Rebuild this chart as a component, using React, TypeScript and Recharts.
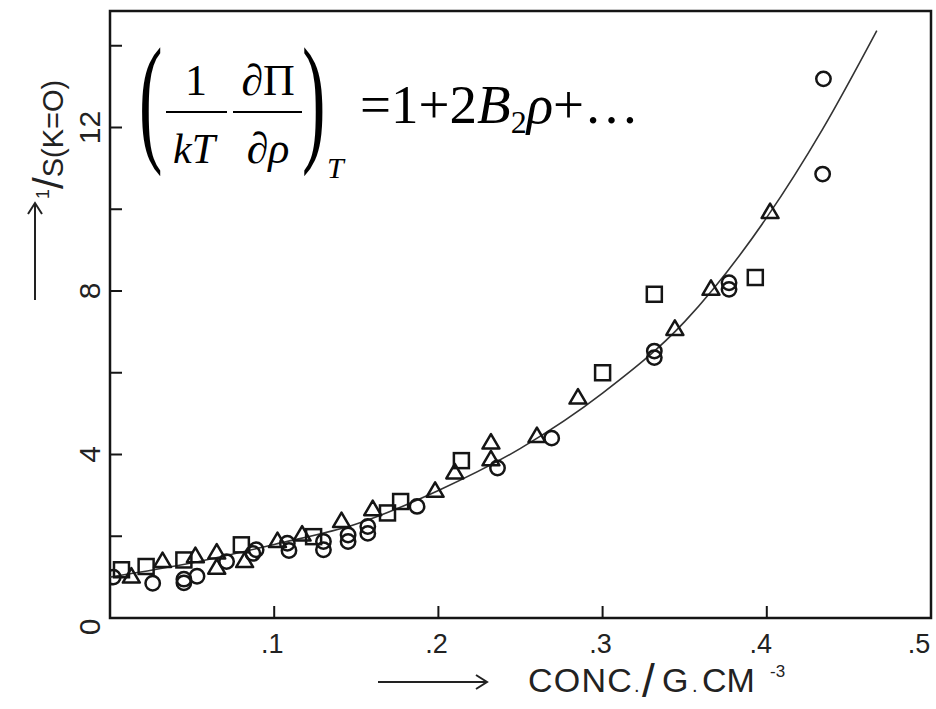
import React from 'react';
import { ComposedChart, Scatter, Line, XAxis, YAxis, ReferenceArea } from 'recharts';

// ---- data ----
const circleConc = [0.002, 0.026, 0.045, 0.045, 0.053, 0.071, 0.087, 0.089, 0.108, 0.109, 0.13, 0.13, 0.145, 0.145, 0.157, 0.157, 0.187, 0.236, 0.269, 0.3315, 0.3315, 0.377, 0.377, 0.434, 0.4345];
const circleInvS = [1.0, 0.85, 0.95, 0.86, 1.02, 1.38, 1.58, 1.67, 1.83, 1.65, 1.87, 1.67, 2.03, 1.87, 2.24, 2.07, 2.73, 3.67, 4.4, 6.53, 6.37, 8.2, 8.04, 10.86, 13.19];

const squareConc = [0.007, 0.022, 0.045, 0.08, 0.124, 0.169, 0.177, 0.214, 0.3, 0.3315, 0.393];
const squareInvS = [1.18, 1.26, 1.42, 1.79, 1.99, 2.57, 2.85, 3.85, 6.0, 7.92, 8.33];

const triangleConc = [0.013, 0.032, 0.052, 0.065, 0.065, 0.082, 0.102, 0.117, 0.141, 0.16, 0.198, 0.21, 0.232, 0.232, 0.26, 0.285, 0.344, 0.366, 0.402];
const triangleInvS = [1.0, 1.38, 1.5, 1.59, 1.22, 1.38, 1.87, 2.03, 2.36, 2.65, 3.1, 3.55, 4.28, 3.87, 4.44, 5.38, 7.06, 8.04, 9.92];

const fitConc = [0, 0.05, 0.1, 0.15, 0.2, 0.25, 0.3, 0.35, 0.4, 0.434, 0.467];
const fitInvS = [1.0, 1.35, 1.8, 2.3, 3.12, 4.15, 5.5, 7.25, 9.8, 11.96, 14.37];

const xTicks = [0.1, 0.2, 0.3, 0.4, 0.5];
const yTicks = [0, 2, 4, 6, 8, 10, 12, 14];
const yLabelled = [0, 4, 8, 12];

const Y_MAX = 14.85;

const zip = (xs: number[], ys: number[]) => xs.map((x, i) => ({ x, y: ys[i] }));
const circles = zip(circleConc, circleInvS);
const squares = zip(squareConc, squareInvS);
const triangles = zip(triangleConc, triangleInvS);
const fit = zip(fitConc, fitInvS);

const INK = '#151515';
const LABEL_FONT = '"Liberation Sans", Arial, sans-serif';
const SERIF = '"Liberation Serif", "Times New Roman", serif';

const CircleMark = (p: any) => (
  <circle cx={p.cx} cy={p.cy} r={7.2} fill="none" stroke={INK} strokeWidth={2.5} />
);
const SquareMark = (p: any) => (
  <rect x={p.cx - 7.5} y={p.cy - 7.5} width={15} height={15} fill="none" stroke={INK} strokeWidth={2.5} />
);
const TriangleMark = (p: any) => (
  <polygon
    points={`${p.cx},${p.cy - 9} ${p.cx - 8.5},${p.cy + 5.5} ${p.cx + 8.5},${p.cy + 5.5}`}
    fill="none"
    stroke={INK}
    strokeWidth={2.5}
    strokeLinejoin="round"
  />
);

const XTick = (p: any) => {
  const { x, y, payload } = p;
  const v = payload.value;
  const label = '.' + Math.round(v * 10);
  const lx = v >= 0.5 ? x - 12 : v >= 0.4 ? x - 6 : x - 2;
  return (
    <g>
      {v < 0.5 && <line x1={x} y1={y} x2={x} y2={y - 12} stroke={INK} strokeWidth={2} />}
      <text x={lx} y={y + 35} textAnchor="middle" fontSize={27} fontFamily={LABEL_FONT} fill="#222">
        {label}
      </text>
    </g>
  );
};

const YTick = (p: any) => {
  const { x, y, payload } = p;
  const v = payload.value;
  const showLabel = yLabelled.includes(v);
  const cy = v === 0 ? y + 9 : y;
  const bx = x - 10;
  return (
    <g>
      {v > 0 && <line x1={x} y1={y} x2={x + 12} y2={y} stroke={INK} strokeWidth={2} />}
      {showLabel && (
        <text
          x={bx}
          y={cy}
          transform={`rotate(-90, ${bx}, ${cy})`}
          textAnchor="middle"
          fontSize={30}
          fontFamily={LABEL_FONT}
          fill="#222"
        >
          {String(v)}
        </text>
      )}
    </g>
  );
};

const Overlay = () => (
  <svg width={936} height={709} style={{ position: 'absolute', left: 0, top: 0, pointerEvents: 'none' }}>
    {/* equation */}
    <g fontFamily={SERIF} fill="#000">
      <text transform="translate(139,146) scale(0.5,1)" fontSize={141}>(</text>
      <text x={196} y={95} textAnchor="middle" fontSize={44}>1</text>
      <line x1={166} y1={112} x2={227} y2={112} stroke="#000" strokeWidth={2} />
      <text x={194} y={163} textAnchor="middle" fontSize={42} fontStyle="italic">kT</text>
      <text x={268} y={95} textAnchor="middle" fontSize={44}>∂Π</text>
      <line x1={233} y1={112} x2={302} y2={112} stroke="#000" strokeWidth={2} />
      <text x={268} y={163} textAnchor="middle" fontSize={44}>
        ∂<tspan fontStyle="italic">ρ</tspan>
      </text>
      <text transform="translate(302,146) scale(0.5,1)" fontSize={141}>)</text>
      <text x={327} y={178} fontSize={30} fontStyle="italic">T</text>
      <text x={360} y={123} fontSize={55}>
        =1+2<tspan fontStyle="italic">B</tspan>
        <tspan fontSize={32} dy={10}>2</tspan>
        <tspan fontStyle="italic" dy={-10}>ρ</tspan>+…
      </text>
    </g>

    {/* y-axis title */}
    <g stroke="#222" strokeWidth={2} fill="none">
      <line x1={35} y1={300} x2={35} y2={204} />
      <polyline points="28,214 35,203 42,214" />
    </g>
    <text
      x={63}
      y={199}
      transform="rotate(-90, 63, 199)"
      fontFamily={LABEL_FONT}
      fontSize={29}
      fill="#222"
    >
      <tspan fontSize={18} dy={-14}>1</tspan>
      <tspan dy={14} fontSize={42}>/</tspan>
      <tspan>S(K=O)</tspan>
    </text>

    {/* x-axis title */}
    <g stroke="#222" strokeWidth={2} fill="none">
      <line x1={378} y1={682} x2={486} y2={682} />
      <polyline points="476,675 487,682 476,689" />
    </g>
    <text fontFamily={LABEL_FONT} fontSize={34} fill="#222" y={692}>
      <tspan x={528} letterSpacing={1.2}>CONC</tspan>
      <tspan x={634} fontSize={20}>.</tspan>
      <tspan x={642} y={697} fontSize={46}>/</tspan>
      <tspan x={662} y={692}>G</tspan>
      <tspan x={692} fontSize={20}>.</tspan>
      <tspan x={702}>CM</tspan>
      <tspan x={770} y={677} fontSize={17}>-3</tspan>
    </text>
  </svg>
);

export default function App() {
  return (
    <div style={{ position: 'absolute', left: 0, top: 0, width: 936, height: 709, background: '#fff' }}>
      <ComposedChart
        width={936}
        height={709}
        margin={{ top: 11, right: 5, bottom: 61, left: 40 }}
      >
        <XAxis
          type="number"
          dataKey="x"
          domain={[0, 0.5]}
          ticks={xTicks}
          interval={0}
          tick={<XTick />}
          tickLine={false}
          axisLine={false}
          tickSize={0}
          tickMargin={0}
          height={30}
          allowDataOverflow
        />
        <YAxis
          type="number"
          domain={[0, Y_MAX]}
          ticks={yTicks}
          interval={0}
          tick={<YTick />}
          tickLine={false}
          axisLine={false}
          tickSize={0}
          tickMargin={0}
          width={70}
          allowDataOverflow
        />
        <ReferenceArea
          x1={0}
          x2={0.5}
          y1={0}
          y2={Y_MAX}
          fill="none"
          fillOpacity={0}
          stroke={INK}
          strokeWidth={2.5}
          ifOverflow="visible"
        />
        <Line
          data={fit}
          dataKey="y"
          type="monotone"
          dot={false}
          stroke="#333"
          strokeWidth={1.6}
          isAnimationActive={false}
        />
        <Scatter data={circles} dataKey="y" shape={<CircleMark />} isAnimationActive={false} />
        <Scatter data={squares} dataKey="y" shape={<SquareMark />} isAnimationActive={false} />
        <Scatter data={triangles} dataKey="y" shape={<TriangleMark />} isAnimationActive={false} />
      </ComposedChart>
      <Overlay />
    </div>
  );
}
